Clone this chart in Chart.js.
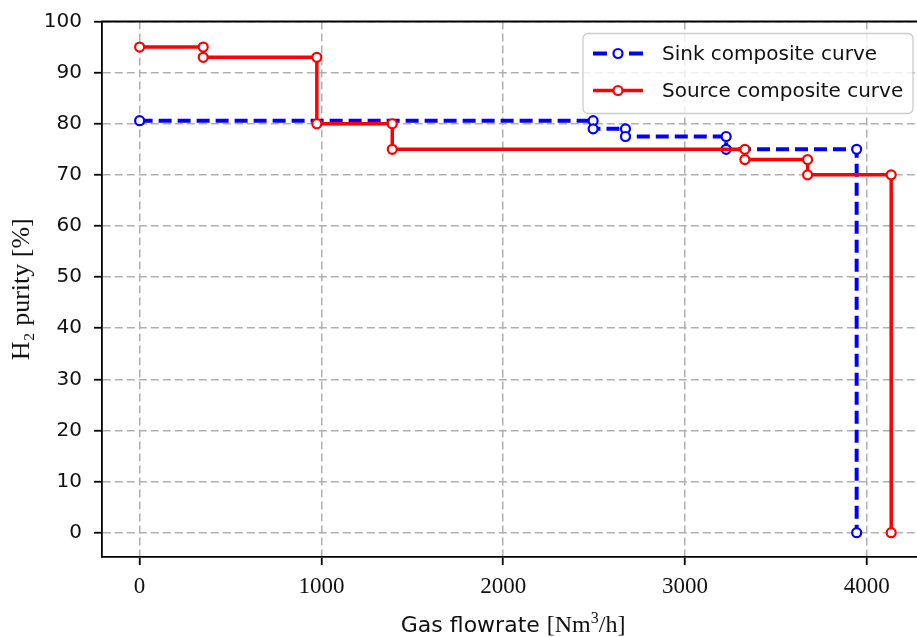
<!DOCTYPE html>
<html>
<head>
<meta charset="utf-8">
<script src="https://cdn.jsdelivr.net/npm/chart.js@4"></script>
<style>
  html, body { margin: 0; padding: 0; background: #fff; overflow: hidden; }
  #wrap { width: 917px; height: 637px; }
</style>
</head>
<body>
<div id="wrap"><canvas id="chart" width="917" height="637"></canvas></div>
<script>
// composite curves, step points
const sinkFlow = [0, 2495, 2495, 2673, 2673, 3227, 3227, 3945, 3945];
const sinkPurity = [80.6, 80.6, 79, 79, 77.5, 77.5, 75, 75, 0];
const sourceFlow = [0, 350, 350, 975, 975, 1390, 1390, 3330, 3330, 3675, 3675, 4135, 4135];
const sourcePurity = [95, 95, 93, 93, 80, 80, 75, 75, 73, 73, 70, 70, 0];
const seriesNames = ['Sink composite curve', 'Source composite curve'];
const xTicks = [0, 1000, 2000, 3000, 4000];
const yTicks = [0, 10, 20, 30, 40, 50, 60, 70, 80, 90, 100];

const toPoints = (xs, ys) => xs.map((x, i) => ({ x: x, y: ys[i] }));

// top spine (matplotlib style frame); the right side is cut off in the figure
const framePlugin = {
    id: 'frame',
    afterDatasetsDraw(chart) {
        const a = chart.chartArea;
        const ctx = chart.ctx;
        ctx.save();
        ctx.strokeStyle = '#000';
        ctx.lineWidth = 1.8;
        ctx.beginPath();
        ctx.moveTo(a.left - 0.9, a.top);
        ctx.lineTo(a.right, a.top);
        ctx.stroke();
        ctx.restore();
    }
};

// x label mixes a sans part and a math (serif) part
const xLabelPlugin = {
    id: 'xlabel',
    afterDraw(chart) {
        const xs = chart.scales.x;
        const ctx = chart.ctx;
        const sans = '22px "DejaVu Sans"';
        const serif = '24px "Liberation Serif"';
        const sup = '16px "Liberation Serif"';
        const parts = [
            { t: 'Gas flowrate ', f: sans, dy: 0 },
            { t: '[Nm', f: serif, dy: 0 },
            { t: '3', f: sup, dy: -9 },
            { t: '/h]', f: serif, dy: 0 }
        ];
        ctx.save();
        ctx.fillStyle = '#111';
        ctx.textBaseline = 'alphabetic';
        let total = 0;
        parts.forEach(p => { ctx.font = p.f; p.w = ctx.measureText(p.t).width; total += p.w; });
        let x = xs.getPixelForValue(2055) - total / 2;
        const y = 632;
        parts.forEach(p => {
            ctx.font = p.f;
            ctx.fillText(p.t, x, y + p.dy);
            x += p.w;
        });
        ctx.restore();
    }
};

// legend drawn like matplotlib: line sample with marker
const legendPlugin = {
    id: 'mplLegend',
    afterDraw(chart) {
        const a = chart.chartArea;
        const ctx = chart.ctx;
        const right = a.right - 4, top = a.top + 12;
        const w = 330, h = 80;
        const left = right - w;
        ctx.save();
        ctx.beginPath();
        ctx.roundRect(left, top, w, h, 5);
        ctx.fillStyle = 'rgba(255,255,255,0.8)';
        ctx.fill();
        ctx.strokeStyle = '#cccccc';
        ctx.lineWidth = 1.3;
        ctx.stroke();
        chart.data.datasets.forEach((ds, i) => {
            const cy = top + 20 + i * 37;
            ctx.strokeStyle = ds.borderColor;
            ctx.lineWidth = ds.borderWidth;
            ctx.beginPath();
            if (ds.borderDash) {
                ctx.moveTo(left + 10, cy); ctx.lineTo(left + 24, cy);
                ctx.moveTo(left + 46, cy); ctx.lineTo(left + 60, cy);
            } else {
                ctx.moveTo(left + 10, cy); ctx.lineTo(left + 60, cy);
            }
            ctx.stroke();
            ctx.beginPath();
            ctx.arc(left + 35, cy, ds.pointRadius, 0, Math.PI * 2);
            ctx.fillStyle = '#fff';
            ctx.fill();
            ctx.lineWidth = ds.pointBorderWidth;
            ctx.stroke();
            ctx.fillStyle = '#111';
            ctx.font = '20px "DejaVu Sans"';
            ctx.textBaseline = 'middle';
            ctx.fillText(ds.label, left + 79, cy + 1);
        });
        ctx.restore();
    }
};

const ctx = document.getElementById('chart').getContext('2d');
const chart = new Chart(ctx, {
    type: 'line',
    data: {
        datasets: [{
            label: seriesNames[0],
            data: toPoints(sinkFlow, sinkPurity),
            borderColor: '#0000ff',
            borderWidth: 4,
            borderDash: [13, 6],
            pointRadius: 4.5,
            pointBorderWidth: 2.2,
            pointBackgroundColor: '#fff',
            pointBorderColor: '#0000ff',
            tension: 0,
            order: 1
        }, {
            label: seriesNames[1],
            data: toPoints(sourceFlow, sourcePurity),
            borderColor: '#ff0000',
            borderWidth: 3.5,
            pointRadius: 4.5,
            pointBorderWidth: 2.2,
            pointBackgroundColor: '#fff',
            pointBorderColor: '#ff0000',
            tension: 0,
            order: 0
        }]
    },
    options: {
        responsive: false,
        animation: false,
        devicePixelRatio: 1,
        layout: {
            autoPadding: false,
            padding: { top: 21.5, right: 0, left: 0, bottom: 0 }
        },
        plugins: {
            legend: { display: false },
            tooltip: { enabled: false }
        },
        scales: {
            x: {
                type: 'linear',
                min: -207,
                max: 4277,
                afterBuildTicks: (scale) => { scale.ticks = xTicks.map(v => ({ value: v })); },
                afterFit: (scale) => {
                    scale.height = 80;
                    scale.paddingLeft = 0;
                    scale.paddingRight = 0;
                },
                ticks: {
                    color: '#111',
                    padding: 8,
                    maxRotation: 0,
                    callback: (v) => String(v),
                    font: { family: 'Liberation Serif', size: 23 }
                },
                grid: {
                    color: '#b0b0b0',
                    lineWidth: 1.5,
                    tickLength: 8,
                    tickColor: '#000',
                    tickWidth: 1.8
                },
                border: { color: '#000', width: 1.8, dash: [8, 4] }
            },
            y: {
                min: -4.75,
                max: 100,
                afterBuildTicks: (scale) => { scale.ticks = yTicks.map(v => ({ value: v })); },
                afterFit: (scale) => {
                    scale.width = 102;
                    scale.paddingTop = 0;
                    scale.paddingBottom = 0;
                },
                ticks: {
                    color: '#111',
                    padding: 12,
                    callback: (v) => String(v),
                    font: { family: 'DejaVu Sans', size: 20 }
                },
                grid: {
                    color: '#b0b0b0',
                    lineWidth: 1.5,
                    tickLength: 8,
                    tickColor: '#000',
                    tickWidth: 1.8
                },
                border: { color: '#000', width: 1.8, dash: [8, 4] },
                title: {
                    display: true,
                    text: 'H₂ purity [%]',
                    color: '#111',
                    padding: { top: 7, bottom: 0 },
                    font: { family: 'Liberation Serif', size: 26 }
                }
            }
        }
    },
    plugins: [framePlugin, xLabelPlugin, legendPlugin]
});
</script>
</body>
</html>
